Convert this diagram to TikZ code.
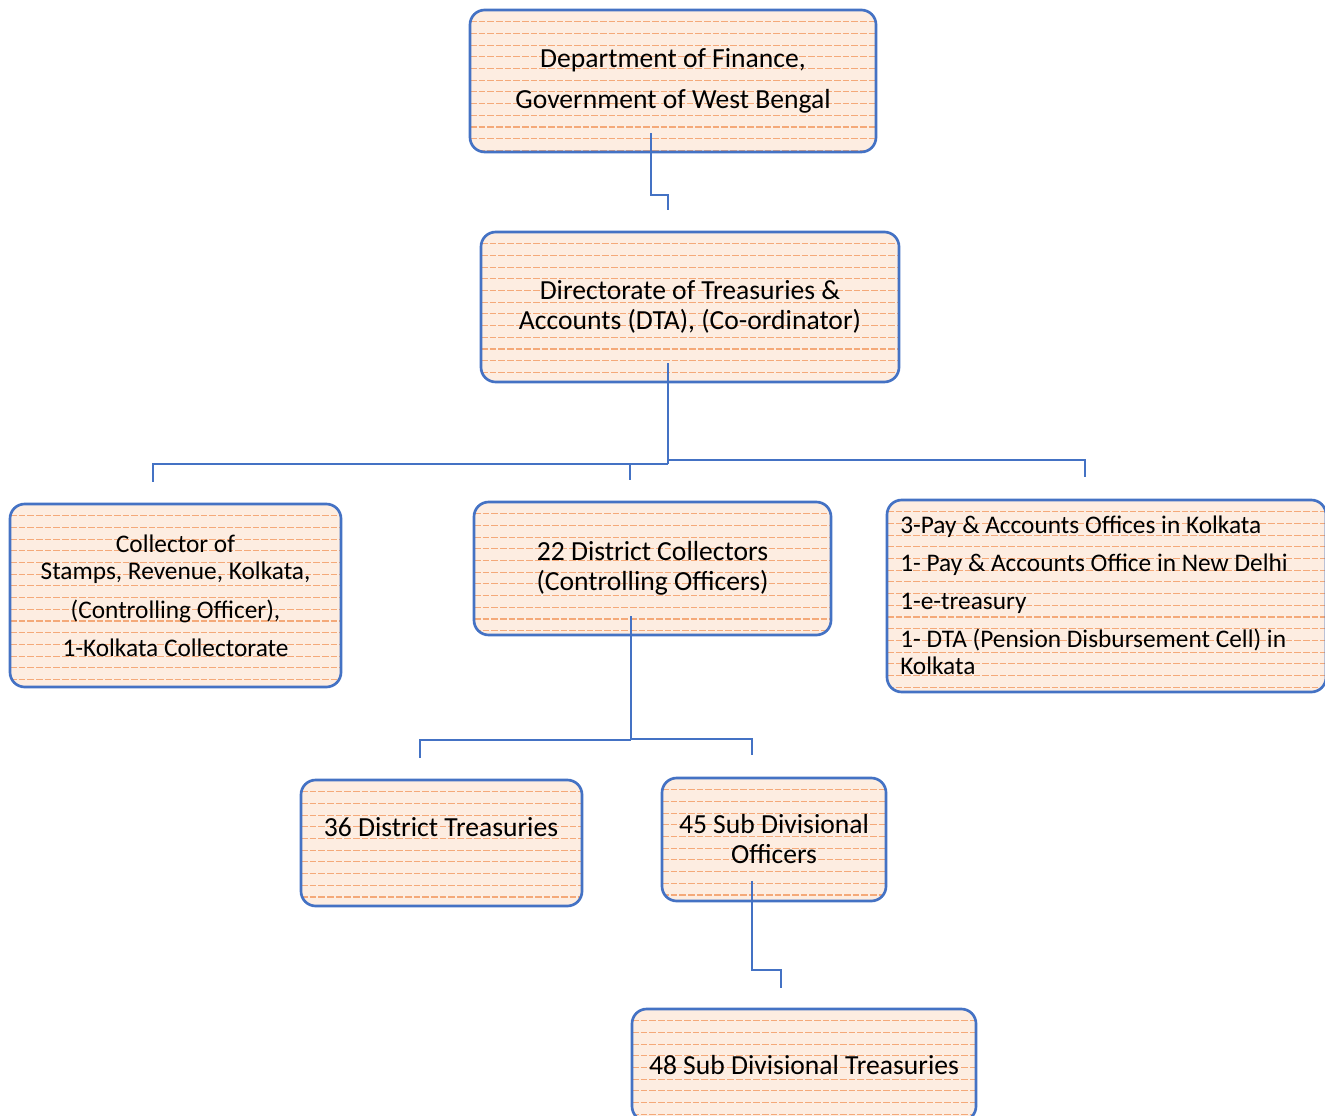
\documentclass[tikz,border=0pt]{standalone}
\usepackage{fontspec}
\setmainfont{Carlito}
\usetikzlibrary{calc}
\definecolor{boxblue}{HTML}{4472C4}
\definecolor{peach}{HTML}{FDEDE1}
\definecolor{stripe}{HTML}{F4A979}
\begin{document}
\begin{tikzpicture}[x=0.75pt,y=-0.75pt,
  orgbox/.style={draw=boxblue, line width=2pt, rounded corners=11pt, fill=peach,
    inner sep=0pt, font=\fontsize{20.7pt}{22.5pt}\selectfont, align=center,
    path picture={\foreach \k in {1,...,30}{\draw[stripe, line width=0.8pt, dash pattern=on 5pt off 1.5pt]
      ($(path picture bounding box.north west)+(0,\k*11.7)$) -- ($(path picture bounding box.north east)+(0,\k*11.7)$);}}},
  smalltext/.style={font=\fontsize{19pt}{20.25pt}\selectfont},
  boxtext/.style={inner sep=0pt, font=\fontsize{20.7pt}{22.5pt}\selectfont},
  link/.style={draw=boxblue, line width=2pt}]
\useasboundingbox (0,0) rectangle (1325,1116);

\node[orgbox, minimum width={406*0.75pt}, minimum height={142*0.75pt}] (b1) at (673,81)
  {Department of Finance,\\[8.25pt]Government of West Bengal};
\node[orgbox, minimum width={418*0.75pt}, minimum height={150*0.75pt}] (b2) at (690,307)
  {Directorate of Treasuries \&\\Accounts (DTA), (Co-ordinator)};
\node[orgbox, smalltext, minimum width={331*0.75pt}, minimum height={183*0.75pt}] (b3) at (175.5,595.5)
  {Collector of\\Stamps, Revenue, Kolkata,\\[9pt](Controlling Officer),\\[8.25pt]1-Kolkata Collectorate};
\node[orgbox, minimum width={357*0.75pt}, minimum height={133*0.75pt}] (b4) at (652.5,568.5)
  {22 District Collectors\\(Controlling Officers)};
\node[orgbox, minimum width={439*0.75pt}, minimum height={192*0.75pt}] (b5) at (1106.5,596) {};
\node[boxtext, smalltext, anchor=west, align=left] (b5t) at (900,595)
  {3-Pay \& Accounts Offices in Kolkata\\[8.25pt]1- Pay \& Accounts Office in New Delhi\\[8.25pt]1-e-treasury\\[8.25pt]1- DTA (Pension Disbursement Cell) in\\Kolkata};
\node[orgbox, minimum width={281*0.75pt}, minimum height={126*0.75pt}] (b6) at (441.5,843) {};
\node[boxtext] (b6t) at (441,827) {36 District Treasuries};
\node[orgbox, minimum width={224*0.75pt}, minimum height={123*0.75pt}] (b7) at (774,839.5)
  {45 Sub Divisional\\Officers};
\node[orgbox, minimum width={344*0.75pt}, minimum height={112*0.75pt}] (b8) at (804,1065)
  {48 Sub Divisional Treasuries};

% connector b1 -> b2
\coordinate (c1s) at ($(b1.south)+(-22,-20)$);
\coordinate (c1e) at (668,210);
\draw[link] (c1s) |- (668,195) -- (c1e);

% connector b2 -> b3,b4,b5
\coordinate (c2s) at ($(b2.south)+(-22,-20)$);
\coordinate (c2j) at (668,464);
\coordinate (c2l) at (153,482);
\coordinate (c2m) at (630,480);
\coordinate (c2r) at (1085,477);
\draw[link] (c2s) -- (c2j);
\draw[link] (c2j) -| (c2l);
\draw[link] (630,464) -- (c2m);
\draw[link] (668,460) -| (c2r);

% connector b4 -> b6,b7
\coordinate (c3s) at ($(b4.south)+(-21.5,-20)$);
\coordinate (c3j) at (631,740);
\coordinate (c3l) at (420,758);
\coordinate (c3r) at (752,755);
\draw[link] (c3s) -- (c3j);
\draw[link] (c3j) -| (c3l);
\draw[link] (631,739) -| (c3r);

% connector b7 -> b8
\coordinate (c4s) at ($(b7.south)+(-22,-21.5)$);
\coordinate (c4e) at (781,988);
\draw[link] (c4s) |- (781,970) -- (c4e);
\end{tikzpicture}
\end{document}
